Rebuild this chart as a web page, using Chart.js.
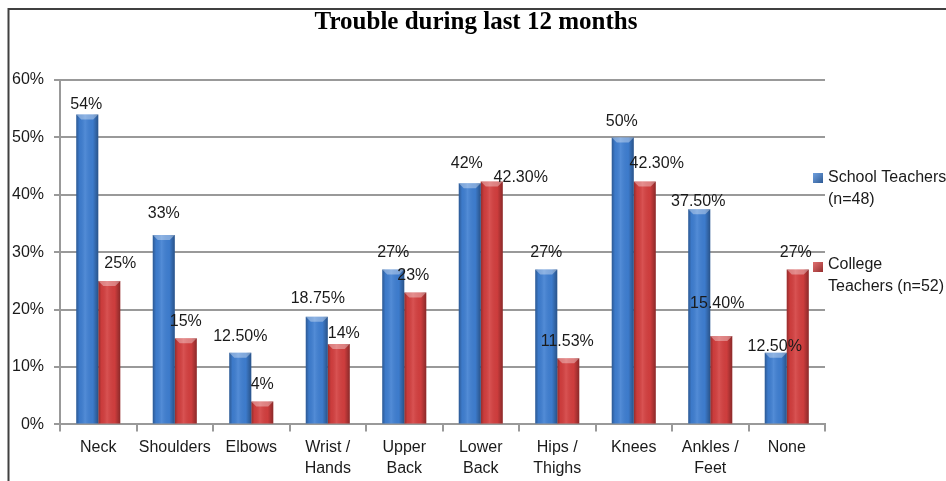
<!DOCTYPE html>
<html><head><meta charset="utf-8">
<script src="https://cdn.jsdelivr.net/npm/chart.js@4/dist/chart.umd.min.js"></script>
<style>html,body{margin:0;padding:0;background:#fff;}</style>
</head><body><canvas id="c" width="946" height="481"></canvas>
<script>
const categories = [["Neck"],["Shoulders"],["Elbows"],["Wrist /","Hands"],["Upper","Back"],["Lower","Back"],["Hips /","Thighs"],["Knees"],["Ankles /","Feet"],["None"]];
const schoolValues = [54,33,12.5,18.75,27,42,27,50,37.5,12.5];
const collegeValues = [25,15,4,14,23,42.3,11.53,42.3,15.4,27];
const schoolLabels = ["54%","33%","12.50%","18.75%","27%","42%","27%","50%","37.50%","12.50%"];
const collegeLabels = ["25%","15%","4%","14%","23%","42.30%","11.53%","42.30%","15.40%","27%"];
const seriesNames = [["School Teachers","(n=48)"],["College","Teachers (n=52)"]];
const yTicks = [0,10,20,30,40,50,60];
const titleText = "Trouble during last 12 months";

// label nudges [dx, dy] relative to default position above bar
const schoolNudge = [[-1,7],[0,-4],[0,1],[1,-1],[0,0],[-3,-3],[0,0],[-1,1],[-1,9],[-1,11]];
const collegeNudge = [[11,0],[0,0],[0,0],[5,7],[-2,0],[29,13],[-1,0],[12,-1],[-4,-15],[-2,0]];

const FONT = "'Liberation Sans', Arial, sans-serif";
const colors = ['#3f7fd2', '#d43f3f'];

const frame = {
  id: 'frame',
  beforeDraw(chart) {
    const ctx = chart.ctx;
    ctx.save();
    ctx.fillStyle = '#fff';
    ctx.fillRect(0, 0, chart.width, chart.height);
    ctx.strokeStyle = '#404040';
    ctx.lineWidth = 2;
    ctx.beginPath();
    ctx.moveTo(8.5, chart.height + 5);
    ctx.lineTo(8.5, 9);
    ctx.lineTo(chart.width + 5, 9);
    ctx.stroke();
    ctx.fillStyle = '#000';
    ctx.font = "bold 25px 'Liberation Serif', 'Times New Roman', serif";
    ctx.textAlign = 'center';
    ctx.textBaseline = 'middle';
    ctx.fillText(titleText, 476, 23);
    ctx.restore();
  }
};

const shade = {
  id: 'shade',
  afterDatasetsDraw(chart) {
    const ctx = chart.ctx;
    chart.data.datasets.forEach((ds, di) => {
      chart.getDatasetMeta(di).data.forEach(bar => {
        const p = bar.getProps(['x','y','base','width'], true);
        const l = p.x - p.width/2, r = p.x + p.width/2;
        const g = ctx.createLinearGradient(l, 0, r, 0);
        g.addColorStop(0, 'rgba(0,0,0,0.30)');
        g.addColorStop(0.15, 'rgba(0,0,0,0.04)');
        g.addColorStop(0.4, 'rgba(255,255,255,0.10)');
        g.addColorStop(0.75, 'rgba(0,0,0,0.03)');
        g.addColorStop(1, 'rgba(0,0,0,0.35)');
        ctx.save();
        ctx.fillStyle = g;
        ctx.fillRect(l, p.y, p.width, p.base - p.y);
        ctx.fillStyle = 'rgba(255,255,255,0.35)';
        ctx.beginPath();
        ctx.moveTo(l, p.y); ctx.lineTo(r, p.y); ctx.lineTo(r - 5, p.y + 5); ctx.lineTo(l + 5, p.y + 5);
        ctx.closePath(); ctx.fill();
        ctx.restore();
      });
    });
  }
};

const valueLabels = {
  id: 'valueLabels',
  afterDatasetsDraw(chart) {
    const ctx = chart.ctx;
    const texts = [schoolLabels, collegeLabels];
    const nudges = [schoolNudge, collegeNudge];
    ctx.save();
    ctx.font = "16px " + FONT;
    ctx.fillStyle = '#1a1a1a';
    ctx.textAlign = 'center';
    ctx.textBaseline = 'middle';
    chart.data.datasets.forEach((ds, di) => {
      chart.getDatasetMeta(di).data.forEach((bar, i) => {
        const n = nudges[di][i];
        ctx.fillText(texts[di][i], bar.x + n[0], bar.y - 17 + n[1]);
      });
    });
    ctx.restore();
  }
};

const sideLegend = {
  id: 'sideLegend',
  afterDraw(chart) {
    const ctx = chart.ctx;
    const a = chart.chartArea;
    const tops = [a.top + 98, a.top + 185];
    ctx.save();
    ctx.font = "16px " + FONT;
    ctx.textBaseline = 'middle';
    ctx.textAlign = 'left';
    seriesNames.forEach((lines, i) => {
      const bx = a.right - 12, by = tops[i] - 5 + (i === 1 ? 2 : 0);
      ctx.fillStyle = colors[i];
      ctx.fillRect(bx, by, 10, 10);
      const g = ctx.createLinearGradient(bx, by, bx + 10, by + 10);
      g.addColorStop(0, 'rgba(255,255,255,0.25)');
      g.addColorStop(1, 'rgba(0,0,0,0.3)');
      ctx.fillStyle = g;
      ctx.fillRect(bx, by, 10, 10);
      ctx.fillStyle = '#1a1a1a';
      lines.forEach((t, k) => ctx.fillText(t, a.right + 3, tops[i] + k * 21.5));
    });
    ctx.restore();
  }
};

new Chart(document.getElementById('c'), {
  type: 'bar',
  data: {
    labels: categories,
    datasets: [
      { label: seriesNames[0].join(' '), data: schoolValues, backgroundColor: colors[0], borderWidth: 0 },
      { label: seriesNames[1].join(' '), data: collegeValues, backgroundColor: colors[1], borderWidth: 0 }
    ]
  },
  options: {
    responsive: false,
    animation: false,
    devicePixelRatio: 1,
    categoryPercentage: 0.575,
    barPercentage: 1.0,
    layout: { padding: { top: 80, right: 121, left: 2, bottom: -4 } },
    plugins: { legend: { display: false }, title: { display: false }, tooltip: { enabled: false } },
    scales: {
      x: {
        grid: { drawOnChartArea: false, drawTicks: true, tickLength: 7, color: '#999', lineWidth: 2, offset: true },
        border: { color: '#999', width: 2 },
        ticks: { color: '#1a1a1a', font: { family: FONT, size: 16, lineHeight: 1.3 }, padding: 6, maxRotation: 0, autoSkip: false }
      },
      y: {
        min: 0, max: 60,
        afterBuildTicks(scale) { scale.ticks = yTicks.map(v => ({ value: v })); },
        grid: { color: '#999', lineWidth: 2, tickLength: 6 },
        border: { color: '#999', width: 2 },
        ticks: { color: '#1a1a1a', font: { family: FONT, size: 16 }, padding: 10, callback: v => v + '%' }
      }
    }
  },
  plugins: [frame, shade, valueLabels, sideLegend]
});
</script></body></html>
